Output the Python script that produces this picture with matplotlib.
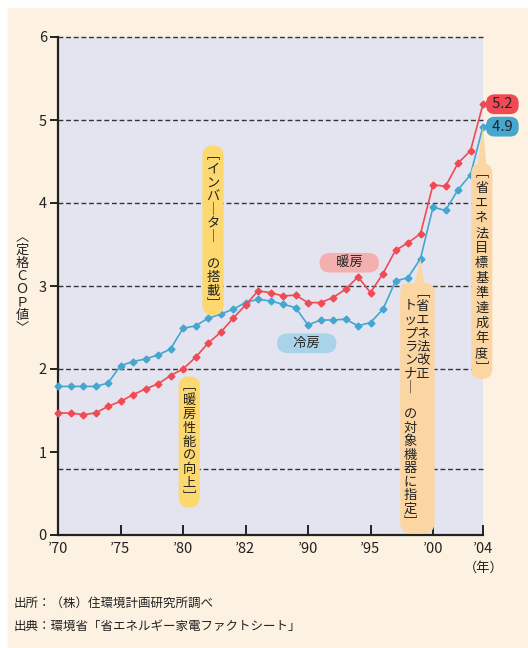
import numpy as np
import matplotlib
matplotlib.use('Agg')
import matplotlib.pyplot as plt
from matplotlib.patches import Rectangle, Polygon

plt.rcParams['font.family'] = ['Noto Sans CJK JP', 'DejaVu Sans']

# data
years = np.arange(1970, 2005)
cooling = [1.79, 1.79, 1.79, 1.79, 1.83, 2.04, 2.09, 2.12, 2.17, 2.24,
           2.49, 2.52, 2.61, 2.66, 2.72, 2.80, 2.84, 2.82, 2.78, 2.74,
           2.53, 2.59, 2.59, 2.60, 2.52, 2.56, 2.72, 3.06, 3.10, 3.33,
           3.95, 3.91, 4.16, 4.34, 4.92]
heating = [1.47, 1.47, 1.45, 1.47, 1.55, 1.61, 1.69, 1.76, 1.82, 1.92,
           2.00, 2.14, 2.31, 2.44, 2.61, 2.77, 2.94, 2.92, 2.88, 2.89,
           2.80, 2.80, 2.86, 2.96, 3.11, 2.92, 3.15, 3.43, 3.52, 3.63,
           4.22, 4.20, 4.48, 4.63, 5.19]
end_labels = ['5.2', '4.9']
tick_pos = [1970, 1975, 1980, 1985, 1990, 1995, 2000, 2004]
tick_lbl = ['’70', '’75', '’80', '’82', '’90', '’95', '’00', '’04']

red = '#f04a55'
blue = '#45a6cf'
yellow = '#fcd86e'
peach = '#fcd6a2'
pink = '#f4b0ae'
lblue = '#a8d3e8'
ink = '#222222'

fig = plt.figure(figsize=(5.28, 6.48), dpi=100)
fig.patches.append(Rectangle((8/528, 0), 1, 1 - 8/648, transform=fig.transFigure,
                             color='#fdf2e1', zorder=-10))

ax = fig.add_axes([58/528, 113/648, 425/528, 498/648])
ax.set_facecolor('#e4e4f0')
ax.set_xlim(1970, 2004)
ax.set_ylim(0, 6)
for s in ['top', 'right']:
    ax.spines[s].set_visible(False)
for s in ['left', 'bottom']:
    ax.spines[s].set_linewidth(1.6)
    ax.spines[s].set_color(ink)

for g in [0.8, 2, 3, 4, 5, 6]:
    ax.axhline(g, color='#333333', lw=1, ls=(0, (3.5, 2)), clip_on=False, zorder=1)

ax.plot(years, cooling, color=blue, lw=1.2, marker='D', ms=3.5, zorder=4, clip_on=False)
ax.plot(years, heating, color=red, lw=1.2, marker='D', ms=3.5, zorder=5, clip_on=False)

ax.set_yticks(range(7))
ax.set_xticks(tick_pos)
ax.set_xticklabels(tick_lbl)
ax.tick_params(axis='y', direction='out', length=6, width=1.4, labelsize=10.5,
               colors=ink, pad=2)
ax.tick_params(axis='x', direction='in', length=7, width=1.4, labelsize=10.5,
               colors=ink, pad=5)


def vert(s):
    return '\n'.join(s.replace('ー', '｜'))


def tail(pts, color):
    ax.add_patch(Polygon(pts, closed=True, fc=color, ec='none', zorder=6,
                         clip_on=False))


box = 'round,pad=0.3,rounding_size=0.8'

# annotation bubbles
tail([(1982.1, 2.9), (1982.8, 2.9), (1982.5, 2.68)], yellow)
ax.text(1982.4, 3.67, vert('﹇インバーター　の搭載﹈'), ha='center', va='center',
        fontsize=9.5, linespacing=1.05, color=ink, zorder=7,
        bbox=dict(boxstyle=box, fc=yellow, ec='none'))

ax.text(1980.5, 1.12, vert('﹇暖房性能の向上﹈'), ha='center', va='center',
        fontsize=9.5, linespacing=1.08, color=ink, zorder=7,
        bbox=dict(boxstyle=box, fc=yellow, ec='none'))

tail([(1998.3, 2.9), (1999.4, 2.9), (1999, 3.33)], peach)
left = '　トップランナー　の対象機器に指定﹈'.replace('ー', '｜')
right = '﹇省エネ法改正'.replace('ー', '｜')
rows = [left[i] + (right[i] if i < len(right) else '　') for i in range(len(left))]
ax.text(1998.75, 1.53, '\n'.join(rows), ha='center', va='center',
        fontsize=9.5, linespacing=1.05, color=ink, zorder=7,
        bbox=dict(boxstyle=box, fc=peach, ec='none'))

tail([(2003.5, 4.4), (2004.3, 4.4), (2004, 4.92)], peach)
ax.text(2003.9, 3.18, vert('﹇省エネ法目標基準達成年度﹈'), ha='center', va='center',
        fontsize=9.5, linespacing=1.2, color=ink, zorder=7,
        bbox=dict(boxstyle=box, fc=peach, ec='none'))

ax.text(1993.3, 3.28, '　暖房　', ha='center', va='center', fontsize=9.5, color=ink,
        zorder=7, bbox=dict(boxstyle='round,pad=0.25,rounding_size=0.8', fc=pink, ec='none'))
ax.text(1989.9, 2.31, '　冷房　', ha='center', va='center', fontsize=9.5, color=ink,
        zorder=7, bbox=dict(boxstyle='round,pad=0.25,rounding_size=0.8', fc=lblue, ec='none'))

# end-value tags
for val, lbl, col in [(heating[-1], end_labels[0], red), (cooling[-1], end_labels[1], blue)]:
    tail([(2004.05, val), (2004.6, val + 0.08), (2004.6, val - 0.08)], col)
    ax.text(2005.55, val, ' ' + lbl + ' ', ha='center', va='center', fontsize=10.5,
            color=ink, zorder=7, clip_on=False,
            bbox=dict(boxstyle='round,pad=0.2,rounding_size=0.6', fc=col, ec='none'))

# axis labels and notes
fig.text(22/528, 1 - 283/648, vert('︿定格ＣＯＰ値﹀'), ha='center', va='center',
         fontsize=9.5, linespacing=1.0, color=ink)
fig.text(484/528, 1 - 568/648, '（年）', ha='center', va='center', fontsize=9.5, color=ink)
fig.text(14/528, 1 - 603/648, '出所：（株）住環境計画研究所調べ', ha='left', va='center',
         fontsize=9, color=ink)
fig.text(14/528, 1 - 626/648, '出典：環境省「省エネルギー家電ファクトシート」', ha='left',
         va='center', fontsize=9, color=ink)

fig.savefig('out.png', dpi=100)
